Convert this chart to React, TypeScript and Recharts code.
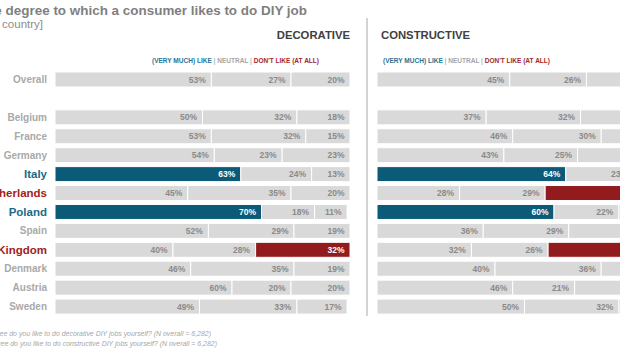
import React from 'react';
import { BarChart, Bar, XAxis, YAxis } from 'recharts';

const countries = ['Overall', ' ', 'Belgium', 'France', 'Germany', 'Italy', 'Netherlands', 'Poland', 'Spain', 'United Kingdom', 'Denmark', 'Austria', 'Sweden'];
const decoLike = [53, null, 50, 53, 54, 63, 45, 70, 52, 40, 46, 60, 49];
const decoNeutral = [27, null, 32, 32, 23, 24, 35, 18, 29, 28, 35, 20, 33];
const decoDislike = [20, null, 18, 15, 23, 13, 20, 11, 19, 32, 19, 20, 17];
const consLike = [45, null, 37, 46, 43, 64, 28, 60, 36, 32, 40, 46, 50];
const consNeutral = [26, null, 32, 30, 25, 23, 29, 22, 29, 26, 36, 21, 32];
const consDislike = [29, null, 31, 24, 32, 13, 43, 18, 35, 42, 24, 33, 18];
const blueLabels = ['Italy', 'Poland'];
const redLabels = ['Netherlands', 'United Kingdom'];
const decoLikeHighlight = ['Italy', 'Poland'];
const decoDislikeHighlight = ['United Kingdom'];
const consLikeHighlight = ['Italy', 'Poland'];
const consDislikeHighlight = ['Netherlands', 'United Kingdom'];

const GRAY_BAR = '#d9d9d9';
const BLUE = '#0b5b78';
const RED = '#921b1e';
const LABEL_GRAY = '#8a8a8a';
const FONT = '"Liberation Sans", Arial, sans-serif';

const build = (like: (number | null)[], neutral: (number | null)[], dislike: (number | null)[]) =>
  countries.map((name, i) => ({ name, like: like[i], neutral: neutral[i], dislike: dislike[i] }));

const decoData = build(decoLike, decoNeutral, decoDislike);
const consData = build(consLike, consNeutral, consDislike);

const makeShape = (kind: 'like' | 'neutral' | 'dislike', likeHl: string[], dislikeHl: string[]) => (props: any) => {
  const { x, y, width, height, payload } = props;
  if (!payload || payload[kind] == null || !width) return <g />;
  const name = payload.name;
  const hl =
    (kind === 'like' && likeHl.includes(name)) ||
    (kind === 'dislike' && dislikeHl.includes(name));
  const fill = hl ? (kind === 'like' ? BLUE : RED) : GRAY_BAR;
  return (
    <g>
      <rect x={x} y={y} width={width} height={height} fill={fill} stroke="#ffffff" strokeWidth={1} />
      <text
        x={x + width - 5.5}
        y={y + height / 2}
        dy="0.36em"
        textAnchor="end"
        fontSize={8.5}
        fontWeight="bold"
        fontFamily={FONT}
        fill={hl ? '#ffffff' : LABEL_GRAY}
      >
        {payload[kind]}%
      </text>
    </g>
  );
};

const CountryTick = (props: any) => {
  const { x, y, payload } = props;
  const name = payload.value;
  const blue = blueLabels.includes(name);
  const red = redLabels.includes(name);
  const hl = blue || red;
  return (
    <text
      x={x}
      y={y}
      dy="0.36em"
      textAnchor="end"
      fontFamily={FONT}
      fontWeight="bold"
      fontSize={hl ? 11.5 : 10}
      fill={blue ? '#1b6a89' : red ? '#a11d22' : '#a9a9a9'}
    >
      {name}
    </text>
  );
};

const Panel = ({ data, showAxis, width, likeHl, dislikeHl }: { data: any[]; showAxis: boolean; width: number; likeHl: string[]; dislikeHl: string[] }) => (
  <BarChart
    width={width}
    height={320}
    data={data}
    layout="vertical"
    margin={{ top: 70, right: showAxis ? 2 : 5, bottom: 4, left: 0 }}
    barSize={15}
  >
    <XAxis type="number" domain={[0, 100]} hide />
    <YAxis
      type="category"
      dataKey="name"
      width={showAxis ? 55 : 0}
      hide={!showAxis}
      axisLine={false}
      tickLine={false}
      tickSize={0}
      tickMargin={8}
      interval={0}
      tick={<CountryTick />}
    />
    <Bar dataKey="like" stackId="s" isAnimationActive={false} shape={makeShape('like', likeHl, dislikeHl)} />
    <Bar dataKey="neutral" stackId="s" isAnimationActive={false} shape={makeShape('neutral', likeHl, dislikeHl)} />
    <Bar dataKey="dislike" stackId="s" isAnimationActive={false} shape={makeShape('dislike', likeHl, dislikeHl)} />
  </BarChart>
);

const Legend = ({ x }: { x: number }) => (
  <text
    x={x}
    y={62.5}
    fontFamily='"Liberation Sans Narrow", "Arial Narrow", "Liberation Sans", sans-serif'
    fontWeight="bold"
    fontSize={7.5}
    textLength={167}
    lengthAdjust="spacingAndGlyphs"
  >
    <tspan fill="#2a7393">(VERY MUCH) LIKE</tspan>
    <tspan fill="#b5b5b5"> | </tspan>
    <tspan fill="#a5a5a5">NEUTRAL</tspan>
    <tspan fill="#b5b5b5"> | </tspan>
    <tspan fill="#a3262a">DON'T LIKE (AT ALL)</tspan>
  </text>
);

export default function App() {
  return (
    <div
      style={{
        position: 'absolute',
        left: 0,
        top: 0,
        width: 620,
        height: 350,
        overflow: 'hidden',
        background: '#ffffff',
        fontFamily: FONT,
      }}
    >
      <div style={{ position: 'absolute', left: 0, top: 0 }}>
        <Panel data={decoData} showAxis={true} width={352} likeHl={decoLikeHighlight} dislikeHl={decoDislikeHighlight} />
      </div>
      <div style={{ position: 'absolute', left: 377, top: 0 }}>
        <Panel data={consData} showAxis={false} width={300} likeHl={consLikeHighlight} dislikeHl={consDislikeHighlight} />
      </div>
      <svg
        width={620}
        height={350}
        style={{ position: 'absolute', left: 0, top: 0, pointerEvents: 'none' }}
      >
        <text x={307} y={14.5} textAnchor="end" fontFamily={FONT} fontWeight="bold" fontSize={13.45} fill="#7f7f7f">
          The degree to which a consumer likes to do DIY job
        </text>
        <text x={43} y={27.5} textAnchor="end" fontFamily={FONT} fontSize={11.5} fill="#8c8c8c">
          [% per country]
        </text>
        <text x={350} y={39.3} textAnchor="end" fontFamily={FONT} fontWeight="bold" fontSize={11.3} fill="#404040">
          DECORATIVE
        </text>
        <text x={381} y={39.3} fontFamily={FONT} fontWeight="bold" fontSize={11.3} fill="#404040">
          CONSTRUCTIVE
        </text>
        <Legend x={152} />
        <Legend x={383} />
        <line x1={367} y1={18} x2={367} y2={316} stroke="#d3d3d3" strokeWidth={2} />
        <text x={211} y={335.5} textAnchor="end" fontFamily={FONT} fontStyle="italic" fontSize={6.95} fill="#a6a6a6">
          Q: To what degree do you like to do decorative DIY jobs yourself? (N overall = 6,282)
        </text>
        <text x={217} y={345.5} textAnchor="end" fontFamily={FONT} fontStyle="italic" fontSize={6.95} fill="#a6a6a6">
          Q: To what degree do you like to do constructive DIY jobs yourself? (N overall = 6,282)
        </text>
      </svg>
    </div>
  );
}
